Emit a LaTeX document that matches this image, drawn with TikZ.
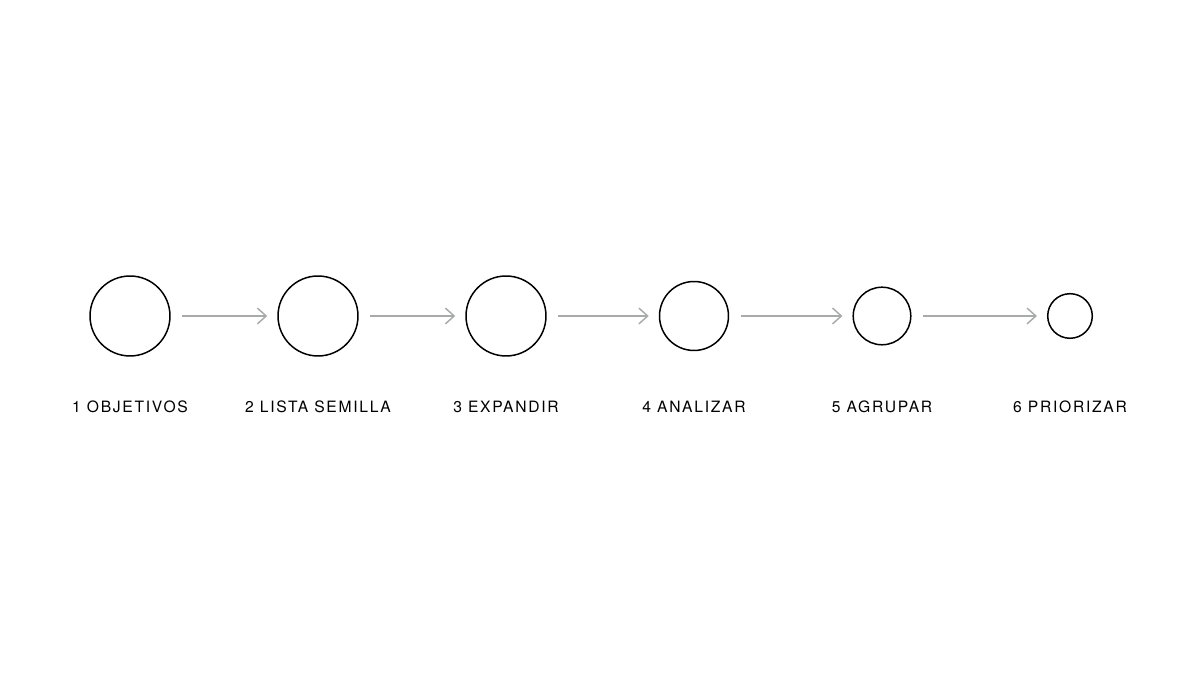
\documentclass[tikz,border=0pt]{standalone}
\usepackage{fontspec}
\usepackage{xcolor}
\usepackage{tikz}
\usetikzlibrary{positioning, arrows.meta}
\newfontfamily\labelfont[LetterSpace=11]{TeX Gyre Heros}
\definecolor{arrowgray}{HTML}{A9ABAB}

\begin{document}
\begin{tikzpicture}[x=0.02cm, y=0.02cm]
		\useasboundingbox (0,0) rectangle (1200,675);
		\foreach \x/\r/\n in {130/40/1,318/40/2,506/40/3,694/34.5/4,882/28.8/5,1070/22.3/6} {
			\draw node[circle, draw=black, line width=0.85pt, inner sep=0, minimum size=\r*0.04cm] at(\x,359) (c\n) {};
		};
		\foreach \x/\t/\n in {130/1 OBJETIVOS/1,318/2 LISTA SEMILLA/2,506/3 EXPANDIR/3,694/4 ANALIZAR/4,882/5 AGRUPAR/5,1070/6 PRIORIZAR/6} {
			\node[font=\labelfont\fontsize{8.9pt}{10pt}\selectfont, text=black] at(\x,268) (l\n) {\t};
		};
		\path[draw=arrowgray, line width=0.85pt, -{Straight Barb[length=5pt, width=9pt]}, shorten <=0.23cm, shorten >=0.2cm]
			(c1) edge (c2)
			(c2) edge (c3)
			(c3) edge (c4)
			(c4) edge (c5)
			(c5) edge (c6);
	\end{tikzpicture}
\end{document}
